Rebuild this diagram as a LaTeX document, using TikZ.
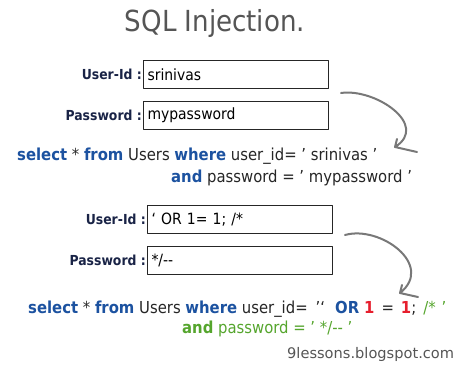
\documentclass[tikz,border=0pt]{standalone}
\usepackage{fontspec}
\setmainfont{DejaVu Sans Condensed}
\newfontfamily\sitefont{DejaVu Sans}
\usetikzlibrary{positioning}
\definecolor{kwblue}{RGB}{28,82,160}
\definecolor{labnavy}{RGB}{25,35,70}
\definecolor{headgray}{RGB}{85,85,85}
\definecolor{penGray}{RGB}{120,120,120}
\definecolor{injred}{RGB}{230,30,45}
\definecolor{cmtgreen}{RGB}{85,165,45}
\newcommand{\kw}[1]{\textbf{\color{kwblue}#1}}
\tikzset{
  headline/.style={font=\fontsize{29}{29}\selectfont,text=headgray},
  field/.style={draw=black!85,line width=1pt,anchor=north west,minimum height=28,
    text width=177pt,inner xsep=4pt,inner ysep=0pt,align=left,
    font=\fontsize{15.5}{16}\selectfont},
  fieldlab/.style={font=\fontsize{13.8}{14}\selectfont\bfseries,text=labnavy,inner sep=0pt},
  sqltext/.style={anchor=base west,inner sep=0pt,text=black!85,
    font=\fontsize{16.5}{16.5}\selectfont},
  handarrow/.style={draw=penGray,line width=2pt},
  footer/.style={anchor=base west,inner sep=0pt,text=headgray,
    font=\sitefont\fontsize{14.6}{15}\selectfont}
}
\begin{document}
\begin{tikzpicture}[x=1pt,y=-1pt,line join=round,line cap=round]
\useasboundingbox (0,0) rectangle (455,365);
\node[headline] (head) at (215,23) {SQL Injection.};
% normal login
\node[field] (uid1) at (143,60) {srinivas};
\node[field] (pwd1) at (143,101) {mypassword};
\node[fieldlab,left=1pt of uid1] (uidlab1) {User-Id :};
\node[fieldlab,left=1pt of pwd1] (pwdlab1) {Password :};
\node[sqltext] (qa1) at (17,160) {\kw{select} * \kw{from} Users \kw{where} user\_id= ’ srinivas ’};
\node[sqltext] (qb1) at (171,182) {\kw{and} password = ’ mypassword ’};
% injected login
\node[field] (uid2) at (147,205) {‘ OR 1= 1; /*};
\node[field] (pwd2) at (147,246) {*/-{}-};
\node[fieldlab,left=1pt of uid2] (uidlab2) {User-Id :};
\node[fieldlab,left=1pt of pwd2] (pwdlab2) {Password :};
\node[sqltext] (qa2) at (28,313) {\kw{select} * \kw{from} Users \kw{where} user\_id=\hspace{8pt}’‘\hspace{10pt}\kw{OR}\hspace{5pt}\textbf{\color{injred}1}\hspace{7pt}=\hspace{7pt}\textbf{\color{injred}1};\hspace{7pt}\color{cmtgreen}/*\hspace{6pt}’};
\node[sqltext,text=cmtgreen] (qb2) at (182,333) {\textbf{and} password = ’ */-{}- ’};
\node[footer] (site) at (287,358) {9lessons.blogspot.com};
% pen arrows
\path
(341,93) coordinate (s1)
(375,88) coordinate (c1)
(430,125) coordinate (d1)
(395,147) coordinate (t1)
(397,139) coordinate (u1)
(417,152) coordinate (r1)
(345,235) coordinate (s2)
(380,225) coordinate (c2)
(435,265) coordinate (d2)
(400,293) coordinate (t2)
(402,285) coordinate (u2)
(418,297) coordinate (r2)
;
\foreach \n in {1,2}
  \draw[handarrow] (s\n) .. controls (c\n) and (d\n) .. (t\n) (u\n) -- (t\n) -- (r\n);
\end{tikzpicture}
\end{document}
